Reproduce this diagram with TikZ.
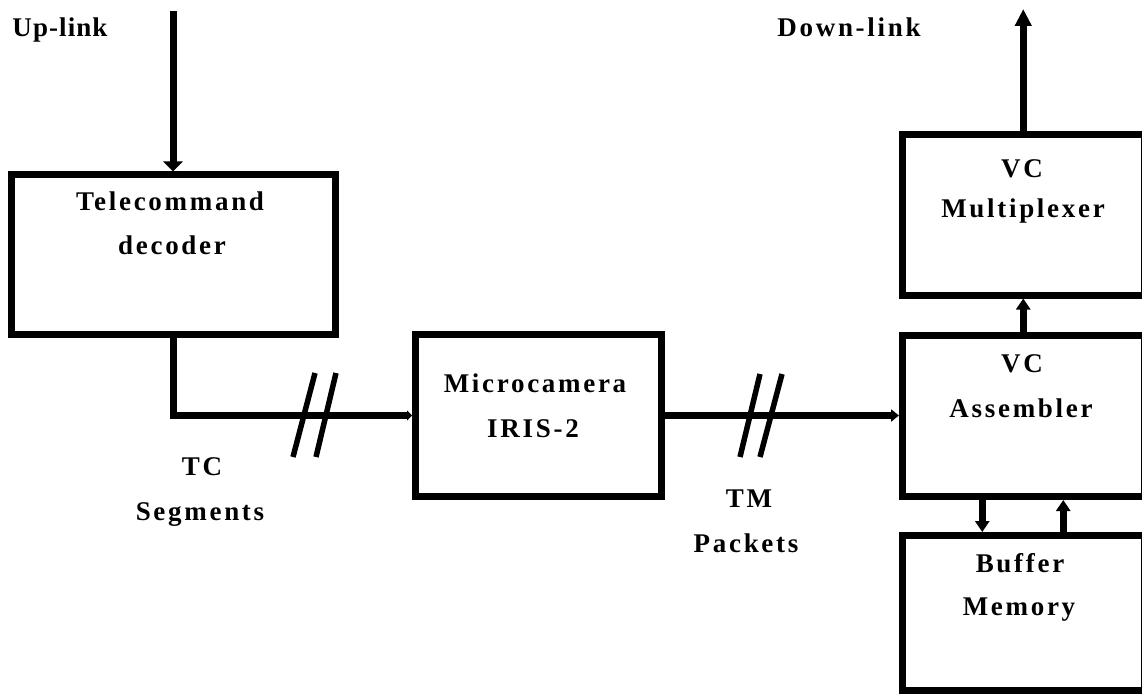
\documentclass[tikz,border=0pt]{standalone}
\usepackage{fontspec}
\setmainfont{Liberation Serif}
\newfontfamily\labfont{Liberation Serif}[LetterSpace=10]
\newfontfamily\labfonttight{Liberation Serif}[LetterSpace=4]
\usetikzlibrary{arrows.meta}
\begin{document}
\begin{tikzpicture}[x=1pt,y=-1pt,
  blk/.style={draw, line width=7pt, inner sep=0pt, fill=white},
  lab/.style={anchor=base, inner sep=0pt, font=\labfont\bfseries\fontsize{27}{32}\selectfont},
  labt/.style={anchor=base, inner sep=0pt, font=\labfonttight\bfseries\fontsize{27}{32}\selectfont},
  conn/.style={line width=7pt},
  slash/.style={line width=5.5pt},
  tipbig/.style={-{Triangle[width=19pt,length=10pt]}},
  tipup/.style={-{Triangle[width=16pt,length=17pt]}},
  tipmid/.style={-{Triangle[width=14pt,length=11pt]}},
  tipsmall/.style={-{Triangle[width=12pt,length=8pt]}},
  tiptiny/.style={-{Triangle[width=10pt,length=5pt]}}]
\useasboundingbox (0,0) rectangle (1142,695);

% boxes
\node[blk, minimum width=324pt, minimum height=159pt] (tcd) at (173,254.5) {};
\node[blk, minimum width=246pt, minimum height=162pt] (cam) at (538.5,415.5) {};
\node[blk, minimum width=241.5pt, minimum height=160pt] (mux) at (1023.25,215) {};
\node[blk, minimum width=241.5pt, minimum height=161pt] (asm) at (1023.25,416) {};
\node[blk, minimum width=241.5pt, minimum height=155pt] (buf) at (1023.25,613) {};

% box texts
\node[lab] (tcd1) at (170,210) {Telecommand};
\node[lab] (tcd2) at (172,254) {decoder};
\node[lab] (cam1) at (535,392) {Microcamera};
\node[lab] (cam2) at (533,437) {IRIS-2};
\node[lab] (mux1) at (1022,178) {VC};
\node[lab] (mux2) at (1023,217) {Multiplexer};
\node[lab] (asm1) at (1022,372) {VC};
\node[lab] (asm2) at (1021,417) {Assembler};
\node[lab] (buf1) at (1020,572) {Buffer};
\node[lab] (buf2) at (1019,615) {Memory};

% free labels
\node[labt] (up) at (60,37) {Up-link};
\node[lab] (down) at (849,37) {Down-link};
\node[lab] (tc1) at (202,475) {TC};
\node[lab] (tc2) at (200,520) {Segments};
\node[lab] (tm1) at (749,507) {TM};
\node[lab] (tm2) at (746,552) {Packets};

% free ends
\coordinate (uptop) at (173,11);
\coordinate (downtop) at (1023.25,9);

% connectors
\draw[conn, tipbig] (uptop) -- (tcd.north);
\draw[conn, tiptiny] (tcd.south) |- (cam.west);
\draw[conn, tipsmall] (cam.east) -- (cam.east -| asm.west);
\draw[conn, tipmid] (asm.north) -- (mux.south);
\draw[conn, tipup] (mux.north) -- (downtop);
\draw[conn, tipmid] ([xshift=-41pt]asm.south) -- ([xshift=-41pt]buf.north);
\draw[conn, tipmid] ([xshift=40pt]buf.north) -- ([xshift=40pt]asm.south);

% break marks
\draw[slash] (293,457) -- (315,373);
\draw[slash] (316,457) -- (336,373);
\draw[slash] (740,457) -- (760,374);
\draw[slash] (760,457) -- (782,374);
\end{tikzpicture}
\end{document}
